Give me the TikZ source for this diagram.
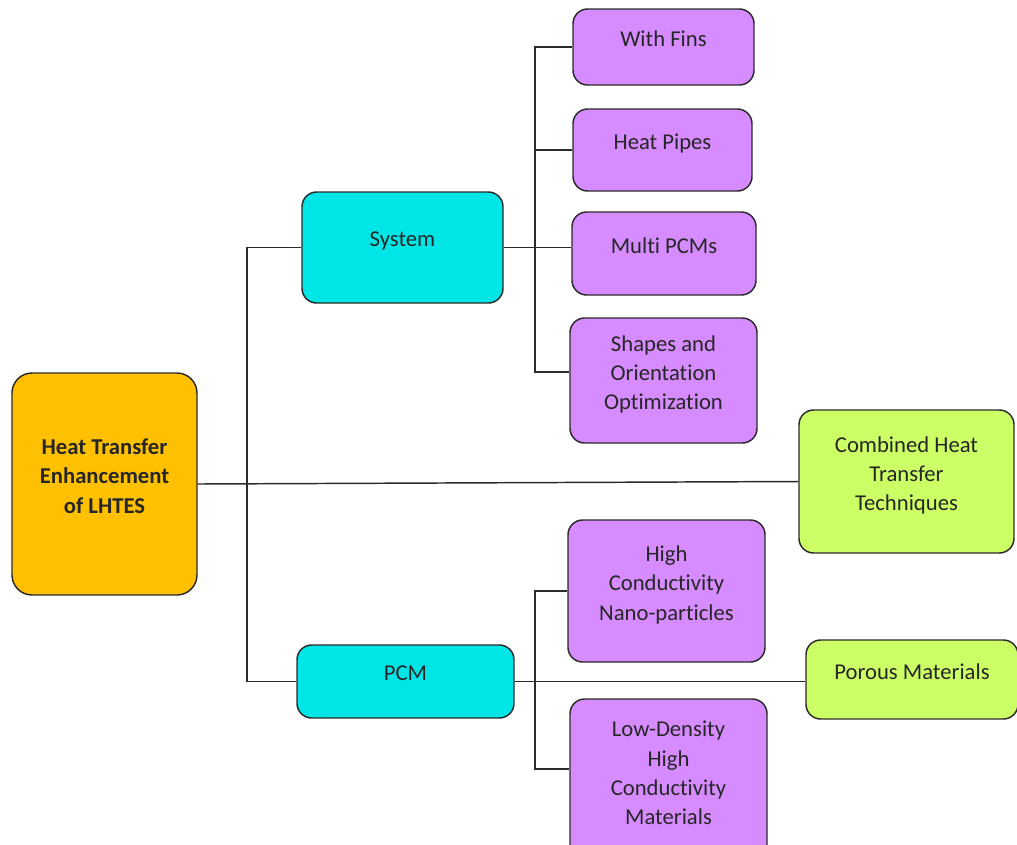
\documentclass[tikz,border=0pt]{standalone}
\usepackage{fontspec}
\setmainfont[Ligatures=NoCommon]{Carlito}
\usepackage{xcolor}
\usepackage{tikz}
\usetikzlibrary{positioning}

\definecolor{box_orange}{HTML}{FFC000}
\definecolor{box_cyan}{HTML}{00E6E6}
\definecolor{box_purple}{HTML}{D68BFF}
\definecolor{box_green}{HTML}{CCFF66}
\definecolor{edge_gray}{HTML}{2B2B2B}

\begin{document}
\begin{tikzpicture}[
      x=0.75pt, y=-0.75pt,
      base_box/.style={
         rectangle,
         rounded corners=11pt,
         draw=edge_gray,
         line width=1.1pt,
         align=center,
         text=black!85,
         text depth=12pt,
         inner sep=0pt,
         font=\fontsize{17}{22}\selectfont},
      root_box/.style={
         base_box,
         fill=box_orange,
         rounded corners=15pt,
         font=\fontsize{17}{22}\selectfont\bfseries},
      group_box/.style={
         base_box,
         fill=box_cyan},
      leaf_box/.style={
         base_box,
         fill=box_purple},
      side_box/.style={
         base_box,
         fill=box_green},
      link/.style={
         draw=edge_gray,
         line width=1.1pt}
]
      \useasboundingbox (0,0) rectangle (1017,844);

      %root
      \node[root_box, minimum width=138.75pt, minimum height=166.5pt] (root) at (104.5,484)
         {Heat Transfer\\Enhancement\\of LHTES};

      %groups
      \node[group_box, minimum width=150.75pt, minimum height=83.25pt] (system) at (402.5,247.5) {System};
      \node[group_box, minimum width=162.75pt, minimum height=54.75pt] (pcm) at (405.5,681.5) {PCM};

      %system leaves
      \node[leaf_box, minimum width=135.75pt, minimum height=57pt] (fins) at (663.5,47) {With Fins};
      \node[leaf_box, minimum width=134.25pt, minimum height=61.5pt] (pipes) at (662.5,150) {Heat Pipes};
      \node[leaf_box, minimum width=138pt, minimum height=62.25pt] (multi) at (664,253.5) {Multi PCMs};
      \node[leaf_box, minimum width=140.25pt, minimum height=93.75pt] (shapes) at (663.5,380.5)
         {Shapes and\\Orientation\\Optimization};

      %pcm leaves
      \node[leaf_box, minimum width=147.75pt, minimum height=106.5pt] (nano) at (666.5,591)
         {High\\Conductivity\\Nano-particles};
      \node[leaf_box, minimum width=147.75pt, minimum height=123pt] (lowdens) at (668.5,781)
         {Low-Density\\High\\Conductivity\\Materials};

      %side boxes
      \node[side_box, minimum width=161.25pt, minimum height=107.25pt] (combined) at (906.5,481.5)
         {Combined Heat\\Transfer\\Techniques};
      \node[side_box, minimum width=159pt, minimum height=59.25pt] (porous) at (912,679.5) {Porous Materials};

      %buses
      \coordinate (trunk) at (247,0);
      \coordinate (sys_bus) at (535,0);

      \draw[link] (root.east) -- (combined.west);
      \draw[link] (system.west) -- (system.west -| trunk) -- (pcm.west -| trunk) -- (pcm.west);

      \draw[link] (system.east) -- (system.east -| multi.west);
      \draw[link] (fins.west) -- (fins.west -| sys_bus) -- ([yshift=6.4pt]shapes.west -| sys_bus)
         -- ([yshift=6.4pt]shapes.west);
      \foreach \n in {pipes}
        \draw[link] (\n.west) -- (\n.west -| sys_bus);

      \draw[link] (pcm.east) -- (pcm.east -| porous.west);
      \draw[link] (nano.west) -- (nano.west -| sys_bus) -- ([yshift=9pt]lowdens.west -| sys_bus)
         -- ([yshift=9pt]lowdens.west);

\end{tikzpicture}
\end{document}
